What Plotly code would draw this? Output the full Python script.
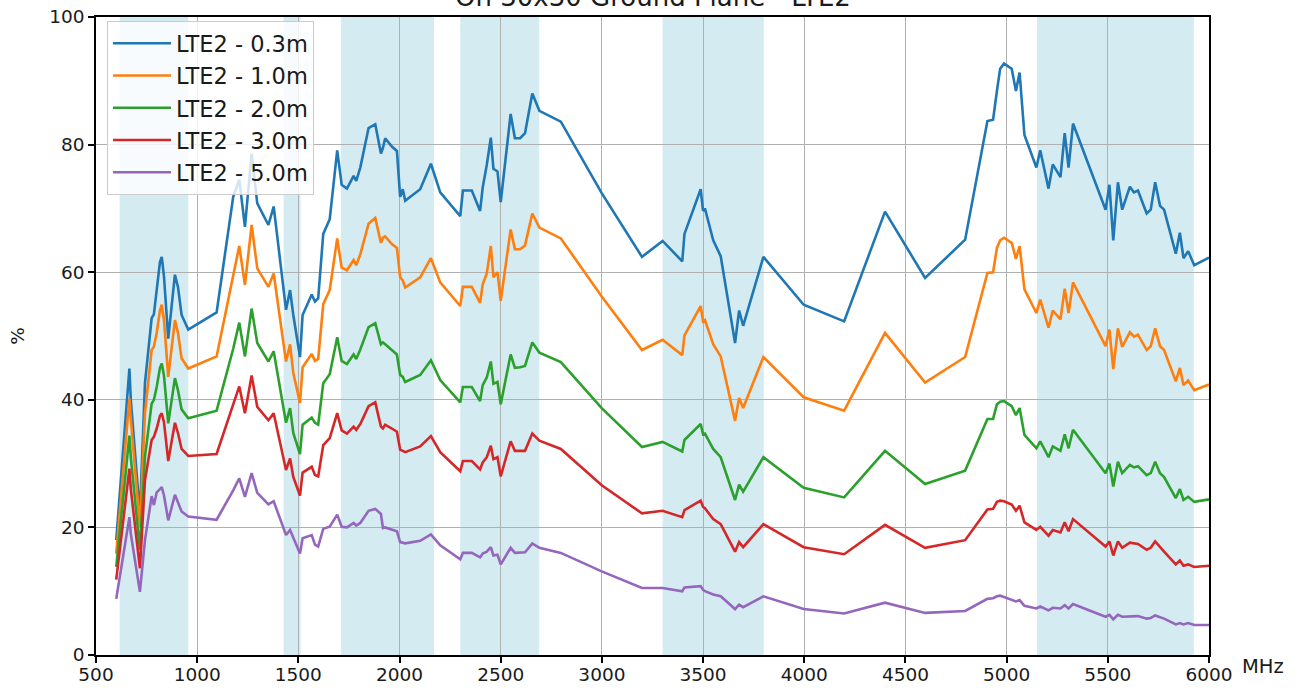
import plotly.graph_objects as go

# Measurement frequencies (MHz)
freq_mhz = [600, 665, 672, 717, 742, 775, 786, 800, 816, 825, 836, 857, 890, 905, 923, 956,
            1096, 1178, 1208, 1236, 1269, 1297, 1352, 1378, 1439, 1459, 1475, 1508, 1521, 1566,
            1582, 1598, 1623, 1655, 1692, 1714, 1740, 1773, 1786, 1806, 1847, 1880, 1908, 1918,
            1929, 1962, 1987, 2003, 2016, 2028, 2102, 2155, 2201, 2300, 2313, 2357, 2398, 2411,
            2431, 2451, 2464, 2484, 2500, 2549, 2570, 2596, 2620, 2656, 2691, 2797, 2999, 3198,
            3300, 3397, 3408, 3488, 3500, 3509, 3550, 3587, 3658, 3678, 3698, 3798, 3997, 4197,
            4399, 4597, 4795, 4905, 4933, 4952, 4968, 4987, 5025, 5046, 5064, 5088, 5147, 5166,
            5207, 5228, 5266, 5287, 5306, 5328, 5489, 5508, 5527, 5550, 5571, 5609, 5629, 5649,
            5692, 5712, 5734, 5758, 5778, 5836, 5856, 5874, 5897, 5927, 6000]

# Efficiency (%) per cable length
eff_03m = [18.0, 44.9, 40.0, 22.0, 42.6, 52.8, 53.4, 57.2, 61.6, 62.4, 59.3, 49.6, 59.6, 57.7, 53.3, 51.0,
           53.7, 71.8, 74.5, 67.1, 78.6, 70.8, 67.4, 70.3, 54.1, 57.2, 53.3, 46.7, 53.3, 56.5,
           55.4, 55.9, 66.0, 68.3, 79.1, 73.7, 73.1, 75.1, 74.3, 76.4, 82.6, 83.2, 78.6, 79.5,
           81.0, 79.7, 79.0, 71.8, 73.0, 71.2, 73.0, 77.0, 72.5, 68.8, 72.8, 72.8, 69.6, 73.3,
           76.8, 81.1, 76.2, 75.8, 71.0, 84.8, 81.0, 81.0, 81.8, 88.0, 85.3, 83.6, 72.4, 62.4,
           64.9, 61.7, 66.0, 73.0, 69.6, 70.0, 65.0, 62.5, 48.9, 54.0, 51.6, 62.4, 54.9, 52.3,
           69.5, 59.1, 65.1, 83.7, 83.9, 88.4, 91.9, 92.7, 91.9, 88.4, 91.3, 81.5, 76.4, 79.1,
           73.1, 76.9, 74.9, 81.8, 76.4, 83.3, 69.8, 73.7, 65.0, 74.1, 69.8, 73.4, 72.5, 72.8,
           69.2, 69.8, 74.1, 70.4, 69.8, 62.9, 66.2, 62.2, 63.3, 61.1, 62.3]

eff_10m = [15.9, 40.2, 37.0, 20.1, 37.9, 47.8, 48.3, 50.5, 54.0, 54.9, 52.5, 43.6, 52.5, 50.5, 46.5, 44.9,
           46.8, 59.5, 64.1, 58.0, 67.4, 60.6, 57.7, 59.8, 46.0, 48.7, 44.2, 39.5, 45.1, 47.2,
           46.1, 46.4, 55.0, 57.2, 65.3, 60.7, 60.3, 61.9, 61.1, 62.8, 67.6, 68.5, 64.6, 65.4,
           65.6, 64.4, 63.8, 59.2, 58.7, 57.6, 59.2, 62.2, 58.4, 54.7, 57.7, 57.7, 55.2, 58.1,
           59.8, 64.1, 59.2, 60.0, 55.5, 66.7, 63.6, 63.6, 64.2, 69.2, 67.0, 65.3, 56.2, 47.8,
           49.4, 47.0, 50.1, 54.7, 52.3, 52.5, 48.7, 46.8, 36.7, 40.3, 38.7, 46.7, 40.4, 38.3,
           50.5, 42.7, 46.7, 59.9, 60.0, 63.8, 65.0, 65.4, 64.6, 62.1, 64.1, 57.3, 53.6, 55.7,
           51.3, 54.0, 52.6, 57.4, 53.6, 58.4, 48.4, 51.0, 44.8, 51.2, 48.3, 50.6, 49.9, 50.2,
           47.8, 48.4, 51.2, 48.4, 47.8, 42.9, 45.0, 42.3, 43.0, 41.5, 42.4]

eff_20m = [13.8, 34.4, 31.0, 16.5, 31.1, 39.4, 40.0, 42.0, 45.0, 45.7, 43.8, 36.3, 43.4, 41.5, 38.5, 37.1,
           38.3, 48.0, 52.1, 46.8, 54.3, 48.9, 46.0, 47.6, 36.4, 38.7, 34.8, 31.5, 36.1, 37.2,
           36.4, 36.1, 42.6, 44.0, 49.8, 46.1, 45.6, 47.1, 46.4, 47.9, 51.4, 52.0, 48.7, 49.0,
           48.7, 47.8, 47.1, 43.9, 43.6, 42.8, 43.9, 46.2, 43.1, 39.6, 42.0, 42.0, 39.8, 42.3,
           43.5, 46.0, 42.5, 42.8, 39.3, 47.1, 45.0, 45.1, 45.3, 49.0, 47.4, 45.9, 38.7, 32.6,
           33.4, 31.9, 33.7, 36.2, 34.6, 34.7, 32.3, 31.0, 24.3, 26.7, 25.6, 31.0, 26.2, 24.7,
           32.0, 26.8, 28.9, 37.0, 37.0, 39.3, 39.7, 39.8, 39.0, 37.6, 38.7, 34.5, 32.4, 33.5,
           31.0, 32.7, 32.0, 34.6, 32.4, 35.3, 28.5, 30.0, 26.4, 30.3, 28.5, 29.8, 29.4, 29.6,
           28.2, 28.5, 30.3, 28.5, 27.9, 24.6, 26.0, 24.3, 24.8, 24.0, 24.4]

eff_30m = [11.8, 29.2, 26.0, 13.6, 27.4, 33.7, 34.2, 35.5, 37.5, 37.9, 36.5, 30.4, 36.4, 34.8, 32.3, 31.2,
           31.5, 39.5, 42.1, 37.9, 43.8, 38.9, 36.8, 37.9, 29.0, 30.8, 27.9, 25.0, 28.6, 29.5,
           28.2, 28.0, 32.9, 34.0, 37.9, 35.2, 34.7, 35.8, 35.3, 36.2, 39.0, 39.6, 35.8, 35.5,
           36.1, 35.5, 35.0, 32.2, 32.0, 31.8, 32.7, 34.3, 31.8, 28.8, 30.4, 30.4, 29.1, 30.2,
           31.0, 32.8, 30.7, 31.0, 28.0, 33.5, 32.0, 32.0, 32.0, 34.7, 33.6, 32.3, 26.6, 22.2,
           22.6, 21.6, 22.7, 24.2, 23.2, 23.0, 21.3, 20.5, 16.2, 17.7, 16.9, 20.5, 16.9, 15.8,
           20.4, 16.8, 18.0, 22.8, 22.9, 24.0, 24.2, 24.1, 23.6, 22.6, 23.4, 20.8, 19.6, 20.1,
           18.7, 19.6, 19.2, 20.8, 19.4, 21.3, 17.0, 17.8, 15.6, 17.8, 16.8, 17.6, 17.5, 17.4,
           16.5, 16.8, 17.8, 16.9, 16.2, 14.2, 14.8, 14.0, 14.2, 13.8, 14.0]

eff_50m = [8.8, 21.6, 19.0, 9.9, 18.0, 24.9, 23.5, 25.5, 26.0, 26.3, 25.0, 21.1, 25.1, 24.0, 22.5, 21.7,
           21.2, 25.8, 27.7, 24.8, 28.5, 25.4, 23.6, 24.1, 18.8, 19.6, 18.3, 15.9, 18.3, 18.8,
           17.3, 17.0, 19.8, 20.1, 22.0, 20.1, 20.0, 20.7, 20.3, 20.7, 22.6, 22.9, 22.1, 19.9,
           20.0, 19.6, 19.4, 17.7, 17.6, 17.5, 17.9, 18.9, 17.2, 15.0, 16.0, 16.0, 15.3, 15.9,
           16.2, 16.9, 15.6, 15.7, 14.2, 16.8, 16.0, 16.0, 16.1, 17.5, 16.8, 16.0, 13.1, 10.5,
           10.5, 10.0, 10.6, 10.8, 10.2, 10.0, 9.5, 9.2, 7.2, 7.9, 7.5, 9.2, 7.2, 6.5,
           8.2, 6.6, 6.9, 8.8, 8.9, 9.2, 9.3, 9.1, 8.6, 8.4, 8.6, 7.7, 7.3, 7.6,
           7.0, 7.4, 7.3, 7.8, 7.3, 8.0, 6.0, 6.3, 5.6, 6.3, 6.0, 6.1, 6.1, 6.1,
           5.7, 5.8, 6.2, 5.9, 5.7, 4.8, 5.0, 4.8, 5.0, 4.7, 4.7]

series_names = ["LTE2 - 0.3m", "LTE2 - 1.0m", "LTE2 - 2.0m", "LTE2 - 3.0m", "LTE2 - 5.0m"]
series_values = [eff_03m, eff_10m, eff_20m, eff_30m, eff_50m]
series_colors = ["#1f77b4", "#ff7f0e", "#2ca02c", "#d62728", "#9467bd"]

# LTE operating bands to highlight (MHz)
band_lo = [617, 1427, 1710, 2300, 3300, 5150]
band_hi = [956, 1511, 2170, 2690, 3800, 5925]

x_ticks = list(range(500, 6001, 500))
y_ticks = [0, 20, 40, 60, 80, 100]

for vals in series_values:
    assert len(vals) == len(freq_mhz), (len(vals), len(freq_mhz))

FONT = "DejaVu Sans"
TXT = "#1a1a1a"
fig = go.Figure()

for i, (name, vals, col) in enumerate(zip(series_names, series_values, series_colors)):
    fig.add_trace(go.Scatter(
        x=freq_mhz, y=vals, mode="lines", name=name,
        legendgroup=f"g{i}",
        line=dict(color=col, width=2.6),
    ))

for lo, hi in zip(band_lo, band_hi):
    fig.add_shape(type="rect", xref="x", yref="paper", x0=lo, x1=hi, y0=0, y1=1,
                  fillcolor="#add8e6", opacity=0.52, line=dict(width=0), layer="below")

axis_common = dict(
    showline=True, linecolor="black", linewidth=1.5, mirror=True,
    ticks="outside", ticklen=6, tickwidth=1.5, tickcolor="black",
    showgrid=True, gridcolor="#b0b0b0", gridwidth=1.4, zeroline=False,
    tickfont=dict(family=FONT, size=18.5, color=TXT),
    automargin=False,
)

fig.update_layout(
    width=1306, height=691,
    margin=dict(l=96, r=97, t=17, b=36, autoexpand=False),
    paper_bgcolor="white", plot_bgcolor="white",
    font=dict(family=FONT, size=18.5, color=TXT),
    xaxis=dict(range=[500, 6000], tickvals=x_ticks, ticktext=[str(t) for t in x_ticks],
               ticklabelstandoff=-4, **axis_common),
    yaxis=dict(range=[0, 100], tickvals=y_ticks,
               title=dict(text="%", standoff=20, font=dict(family=FONT, size=18.5)),
               **axis_common),
    legend=dict(
        x=0.0099, y=0.9935, xanchor="left", yanchor="top",
        bgcolor="rgba(255,255,255,0.8)", bordercolor="#cccccc", borderwidth=1,
        font=dict(family=FONT, size=22.5, color=TXT),
        tracegroupgap=0, itemwidth=58,
    ),
    showlegend=True,
    annotations=[
        dict(text="On 30x30 Ground Plane - LTE2", xref="paper", yref="paper",
             x=0.5, y=1.0047, xanchor="center", yanchor="bottom", showarrow=False,
             font=dict(family=FONT, size=26, color=TXT)),
        dict(text="MHz", xref="paper", yref="paper", x=1.0275, y=-0.0185,
             xanchor="left", yanchor="middle", showarrow=False,
             font=dict(family=FONT, size=19.5, color=TXT)),
    ],
)

fig.write_html("out.html")
